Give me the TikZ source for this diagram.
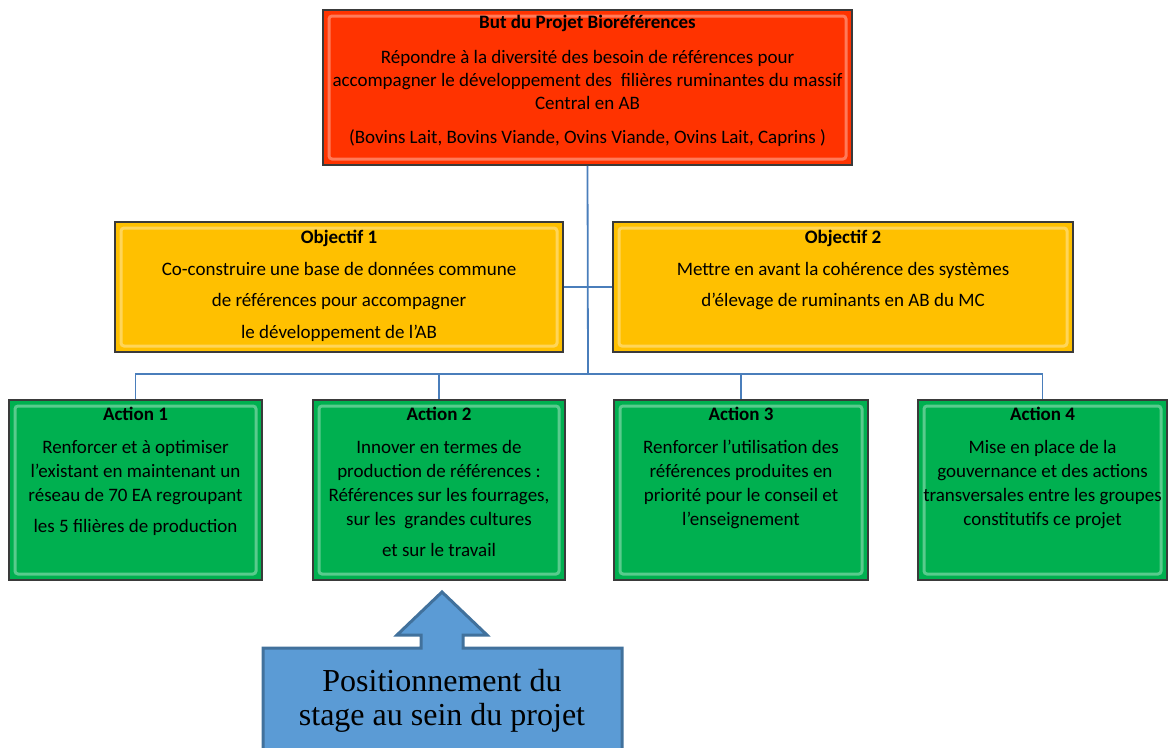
\documentclass[tikz,border=0pt]{standalone}
\usepackage{fontspec}
\setmainfont{Carlito}
\newfontfamily\stagefont{Liberation Serif}
\usepackage{xcolor}
\usepackage{tikz}

\definecolor{butred}{HTML}{FF3300}
\definecolor{objorange}{HTML}{FFC000}
\definecolor{actgreen}{HTML}{00B050}
\definecolor{linkblue}{HTML}{4A7EBB}
\definecolor{stagefill}{HTML}{5B9BD5}
\definecolor{stageedge}{HTML}{41719C}
\definecolor{boxedge}{HTML}{3A3A3A}

\begin{document}
\begin{tikzpicture}[
    x=1pt, y=-1pt,
    every node/.style={inner sep=0pt},
    box/.style={
        draw=boxedge, line width=1.6pt, rectangle,
        path picture={
            \draw[white, opacity=.35, line width=3pt, rounded corners=3pt]
                ([shift={(6pt,-6pt)}]path picture bounding box.north west) rectangle
                ([shift={(-6pt,6pt)}]path picture bounding box.south east);
        }
    },
    goal/.style={box, fill=butred, minimum width=529pt, minimum height=155pt},
    objective/.style={box, fill=objorange, minimum height=130pt},
    action/.style={box, fill=actgreen, minimum height=180pt},
    txt/.style={anchor=north, align=center, font=\fontsize{19}{23}\selectfont},
    acttxt/.style={txt, font=\fontsize{19}{24}\selectfont},
    link/.style={draw=linkblue, line width=1.8pt}
]
\useasboundingbox (0,0) rectangle (1175,747);

% Boxes
\node[goal] (but) at (587.5,87.5) {};
\node[objective, minimum width=448pt] (obj1) at (339,287) {};
\node[objective, minimum width=460pt] (obj2) at (843,287) {};
\node[action, minimum width=253pt] (act1) at (135.5,490) {};
\node[action, minimum width=252pt] (act2) at (439,490) {};
\node[action, minimum width=254pt] (act3) at (741,490) {};
\node[action, minimum width=249pt] (act4) at (1042.5,490) {};

% Texts inside the boxes
\node[txt] (butt) at ([yshift=-3pt]but.north)
    {\strut\textbf{But du Projet Bioréférences}\\[12pt]
     Répondre à la diversité des besoin de références pour\\
     accompagner le développement des \ filières ruminantes du massif\\
     Central en AB\\[11pt]
     (Bovins Lait, Bovins Viande, Ovins Viande, Ovins Lait, Caprins )};
\node[txt] (obj1t) at ([yshift=-6pt]obj1.north)
    {\strut\textbf{Objectif 1}\\[8.5pt]
     Co-construire une base de données commune\\[8.5pt]
     de références pour accompagner\\[8.5pt]
     le développement de l’AB};
\node[txt] (obj2t) at ([yshift=-6pt]obj2.north)
    {\strut\textbf{Objectif 2}\\[8.5pt]
     Mettre en avant la cohérence des systèmes\\[8.5pt]
     d’élevage de ruminants en AB du MC};
\node[acttxt] (act1t) at ([yshift=-4pt]act1.north)
    {\strut\textbf{Action 1}\\[9pt]
     Renforcer et à optimiser\\
     l’existant en maintenant un\\
     réseau de 70 EA regroupant\\[7pt]
     les 5 filières de production};
\node[acttxt] (act2t) at ([yshift=-4pt]act2.north)
    {\strut\textbf{Action 2}\\[9pt]
     Innover en termes de\\
     production de références :\\
     Références sur les fourrages,\\
     sur les \ grandes cultures\\[7pt]
     et sur le travail};
\node[acttxt] (act3t) at ([yshift=-4pt]act3.north)
    {\strut\textbf{Action 3}\\[9pt]
     Renforcer l’utilisation des\\
     références produites en\\
     priorité pour le conseil et\\
     l’enseignement};
\node[acttxt] (act4t) at ([yshift=-4pt]act4.north)
    {\strut\textbf{Action 4}\\[9pt]
     Mise en place de la\\
     gouvernance et des actions\\
     transversales entre les groupes\\
     constitutifs ce projet};

% Connectors
\coordinate (bus) at (588,374);
\draw[link] (but.south) -- (bus);
\draw[link] (obj1.east) -- (obj2.west);
\foreach \a in {act1,act2,act3,act4}
    \draw[link] (bus) -| (\a.north);

% Stage callout
\draw[fill=stagefill, draw=stageedge, line width=3pt, line join=miter]
    (263,648) -- (421,648) -- (421,635) -- (397,635) -- (442,592)
    -- (487,635) -- (463,635) -- (463,648) -- (622,648) -- (622,760)
    -- (263,760) -- cycle;
\node[align=center, font=\stagefont\fontsize{32}{34}\selectfont] (stage) at (442,701)
    {Positionnement du\\stage au sein du projet};
\end{tikzpicture}
\end{document}
